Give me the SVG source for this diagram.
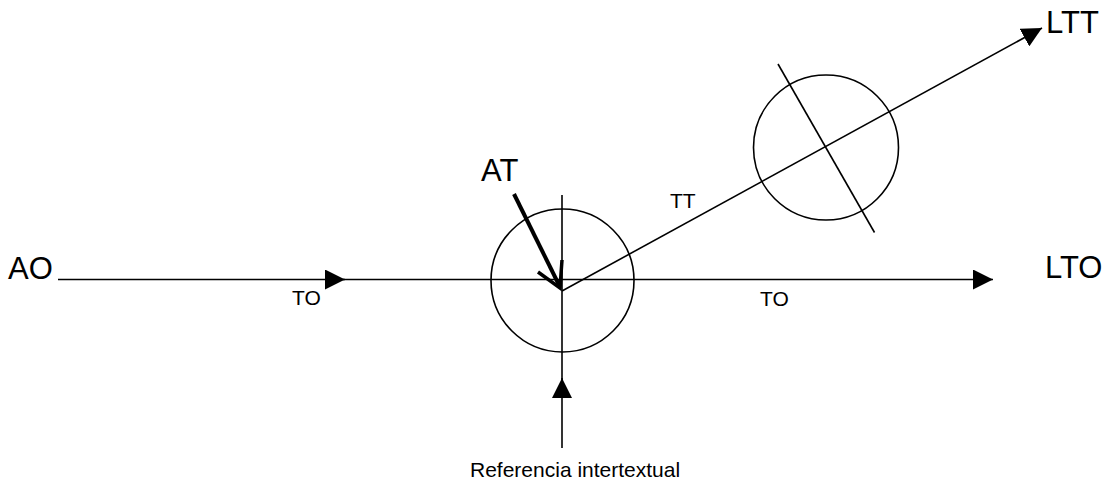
<svg xmlns="http://www.w3.org/2000/svg" width="1115" height="484" viewBox="0 0 1115 484">
<style>
.ln{stroke:#000;stroke-width:1.6;fill:none}
.c{stroke:#000;stroke-width:1.6;fill:none}
.big{font-family:"Liberation Sans",Arial,sans-serif;font-size:31px;fill:#000}
.sm{font-family:"Liberation Sans",Arial,sans-serif;font-size:21px;fill:#000}
</style>
<defs>
<marker id="ah" markerUnits="userSpaceOnUse" markerWidth="20" markerHeight="20" refX="20" refY="10" orient="auto">
<path d="M0,0 L20,10 L0,20 Z" fill="#000"/>
</marker>
</defs>
<g id="connectors">
<line class="ln" x1="58" y1="279.5" x2="345" y2="279.5" marker-end="url(#ah)"/>
<line class="ln" x1="343" y1="279.5" x2="563" y2="279.5"/>
<line class="ln" x1="563" y1="279.5" x2="993" y2="279.5" marker-end="url(#ah)"/>
<line class="ln" x1="562" y1="448" x2="562" y2="378" marker-end="url(#ah)"/>
<line class="ln" x1="562" y1="380" x2="562" y2="195"/>
<line class="ln" x1="562" y1="291" x2="1042" y2="28" marker-end="url(#ah)"/>
<line class="ln" x1="778" y1="64" x2="874.5" y2="232.5"/>
<g id="at-arrow">
<line x1="514" y1="194" x2="560" y2="287" stroke="#000" stroke-width="4"/>
<polyline points="538,272 560,288 562,260" stroke="#000" stroke-width="3.5" fill="none" stroke-linejoin="miter"/>
</g>
</g>
<g id="node-center">
<circle class="c" cx="562.5" cy="280.5" r="71.5"/>
</g>
<g id="node-tt-circle">
<circle class="c" cx="826" cy="147.5" r="72.5"/>
</g>
<g id="node-AO"><text class="big" x="8" y="279">AO</text></g>
<g id="node-LTO"><text class="big" x="1045" y="278">LTO</text></g>
<g id="node-LTT"><text class="big" x="1046" y="33">LTT</text></g>
<g id="node-AT"><text class="big" x="481" y="181">AT</text></g>
<g id="label-TO1"><text class="sm" x="292" y="305">TO</text></g>
<g id="label-TO2"><text class="sm" x="760" y="306">TO</text></g>
<g id="label-TT"><text class="sm" x="670" y="207.5">TT</text></g>
<g id="node-ref"><text class="sm" x="470" y="477">Referencia intertextual</text></g>
</svg>
